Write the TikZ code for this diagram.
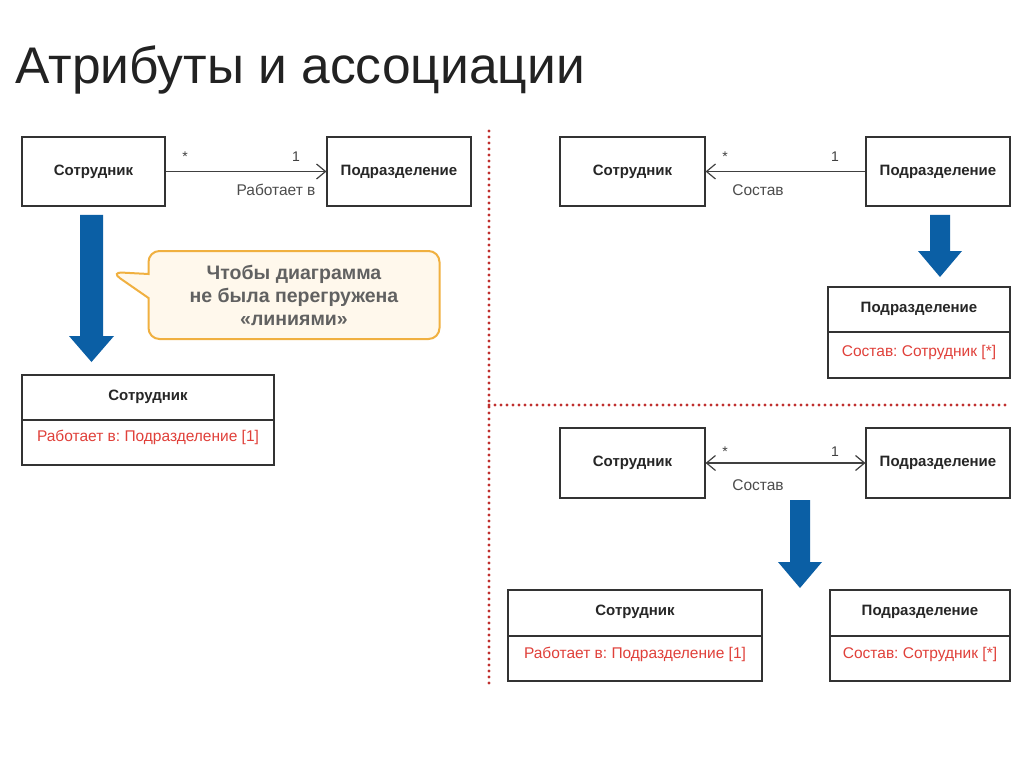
\documentclass[tikz,border=0pt]{standalone}
\usepackage{fontspec}
\setmainfont{Liberation Sans}
\usetikzlibrary{arrows.meta,shapes.callouts}
\frenchspacing
\definecolor{bluearr}{HTML}{0B5FA5}
\definecolor{dotred}{HTML}{C0302F}
\definecolor{attrred}{HTML}{E0403A}
\definecolor{calloutborder}{HTML}{F0B040}
\definecolor{calloutfill}{HTML}{FFF8EC}
\definecolor{titlegray}{HTML}{222222}
\tikzset{
  cls/.style={draw=black!80, line width=1.1pt, fill=white, inner sep=0pt},
  clsname/.style={font=\fontsize{15}{18}\selectfont\bfseries, text=black!85},
  attr/.style={font=\fontsize{15.5}{18}\selectfont, text=attrred},
  assoc/.style={draw=black!75, line width=1.1pt},
  lbl/.style={font=\fontsize{15.5}{18}\selectfont, text=black!70},
  mult/.style={font=\fontsize{14}{16}\selectfont, text=black!75},
  sep/.style={dotred, line width=3.2pt, dash pattern=on 0pt off 6pt, line cap=round},
  bigarrow/.style={fill=bluearr},
  openhead/.style={-{Straight Barb[length=9pt,width=15pt,line width=1.2pt]}},
}
\begin{document}
\begin{tikzpicture}[x=1pt,y=-1pt]
\useasboundingbox (0,0) rectangle (1024,767);
\fill[white] (0,0) rectangle (1024,767);

% title
\node[anchor=west, font=\fontsize{51.5}{58}\selectfont, text=titlegray, inner sep=0pt] (title) at (15,70) {Атрибуты и ассоциации};

% separators
\draw[sep] (489,131) -- (489,688);
\draw[sep] (489,405) -- (1010,405);

% ---------- left part ----------
\node[cls, minimum width=143pt, minimum height=69pt] (s1) at (93.5,171.5) {};
\node[clsname] at (s1) {Сотрудник};
\node[cls, minimum width=144pt, minimum height=69pt] (p1) at (399,171.5) {};
\node[clsname] at (p1) {Подразделение};
\draw[assoc, openhead] (s1.east) -- (p1.west);
\node[mult] (m1a) at (185,157) {*};
\node[mult] (m1b) at (296,157) {1};
\node[lbl] (r1) at (276,190) {Работает в};

% big arrow left
\fill[bigarrow] (80,215) -- (103,215) -- (103,336) -- (114,336) -- (91.5,362) -- (69,336) -- (80,336) -- cycle;

% callout
\node[rectangle callout, draw=calloutborder, line width=2pt, fill=calloutfill, rounded corners=11pt,
      minimum width=291pt, minimum height=88pt, callout absolute pointer={(111,272)},
      callout pointer width=24pt, align=center,
      font=\fontsize{19.5}{23}\selectfont\bfseries, text=black!62] (note) at (294,295)
      {Чтобы диаграмма\\не была перегружена\\«линиями»};

% class with attribute
\node[cls, minimum width=252pt, minimum height=90pt] (s2) at (148,420) {};
\draw[draw=black!80, line width=1.1pt] (22,420) -- (274,420);
\node[clsname] at (148,397) {Сотрудник};
\node[attr] at (148,437) {Работает в: Подразделение [1]};

% ---------- top right ----------
\node[cls, minimum width=145pt, minimum height=69pt] (s3) at (632.5,171.5) {};
\node[clsname] at (s3) {Сотрудник};
\node[cls, minimum width=144pt, minimum height=69pt] (p3) at (938,171.5) {};
\node[clsname] at (p3) {Подразделение};
\draw[assoc, openhead] (p3.west) -- (s3.east);
\node[mult] (m3a) at (725,157) {*};
\node[mult] (m3b) at (835,157) {1};
\node[lbl] (r3) at (758,190) {Состав};

\fill[bigarrow] (930,215) -- (950,215) -- (950,251) -- (962,251) -- (940,277) -- (918,251) -- (930,251) -- cycle;

\node[cls, minimum width=182pt, minimum height=91pt] (p4) at (919,332.5) {};
\draw[draw=black!80, line width=1.1pt] (828,332) -- (1010,332);
\node[clsname] at (919,309) {Подразделение};
\node[attr] at (919,352) {Состав: Сотрудник [*]};

% ---------- bottom right ----------
\node[cls, minimum width=145pt, minimum height=70pt] (s5) at (632.5,463) {};
\node[clsname] at (s5) {Сотрудник};
\node[cls, minimum width=144pt, minimum height=70pt] (p5) at (938,463) {};
\node[clsname] at (p5) {Подразделение};
\draw[assoc, {Straight Barb[length=9pt,width=15pt,line width=1.2pt]}-{Straight Barb[length=9pt,width=15pt,line width=1.2pt]}] (s5.east) -- (p5.west);
\node[mult] (m5a) at (725,452) {*};
\node[mult] (m5b) at (835,452) {1};
\node[lbl] (r5) at (758,485) {Состав};

\fill[bigarrow] (790,500) -- (810,500) -- (810,562) -- (822,562) -- (800,588) -- (778,562) -- (790,562) -- cycle;

\node[cls, minimum width=254pt, minimum height=91pt] (s6) at (635,635.5) {};
\draw[draw=black!80, line width=1.1pt] (508,636) -- (762,636);
\node[clsname] at (635,612) {Сотрудник};
\node[attr] at (635,654) {Работает в: Подразделение [1]};

\node[cls, minimum width=180pt, minimum height=91pt] (p6) at (920,635.5) {};
\draw[draw=black!80, line width=1.1pt] (830,636) -- (1010,636);
\node[clsname] at (920,612) {Подразделение};
\node[attr] at (920,654) {Состав: Сотрудник [*]};
\end{tikzpicture}
\end{document}
